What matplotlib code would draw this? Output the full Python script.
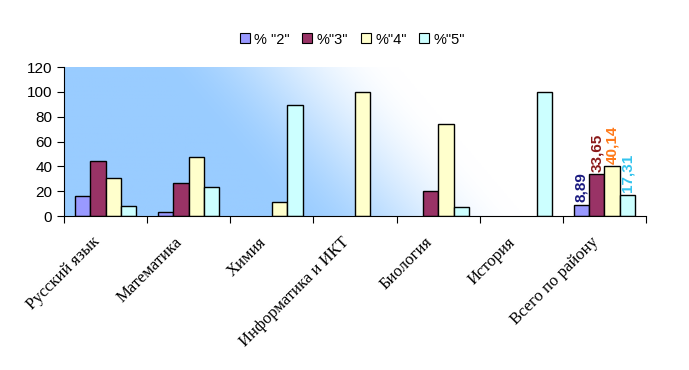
import matplotlib.pyplot as plt
import matplotlib.transforms as mtransforms
import numpy as np
from matplotlib.colors import to_rgb
from matplotlib.lines import Line2D

categories = ["Русский язык", "Математика", "Химия", "Информатика и ИКТ",
              "Биология", "История", "Всего по району"]
series_names = ['% "2"', '%"3"', '%"4"', '%"5"']
pct2 = [16, 3, 0, 0, 0, 0, 8.89]
pct3 = [44, 26.5, 0, 0, 20, 0, 33.65]
pct4 = [31, 47.5, 11, 100, 74, 0, 40.14]
pct5 = [8, 23, 89, 0, 7, 100, 17.31]
total_labels = ["8,89", "33,65", "40,14", "17,31"]

bar_colors = ["#9999FF", "#993366", "#FFFFCC", "#CCFFFF"]
label_colors = ["#1A1A80", "#8B1A1A", "#FF7A1A", "#33C4EE"]

fig = plt.figure(figsize=(6.89, 3.70), dpi=100)
ax = fig.add_axes([0.0929, 0.4162, 0.8447, 0.4027])

n = len(categories)
ax.set_xlim(0, n)
ax.set_ylim(0, 120)

# background gradient: blue at the left, fading diagonally to white
gx = np.linspace(0, 582, 400)
gy = np.linspace(0, 149, 150)
X, Y = np.meshgrid(gx, gy)
s = X + 0.85 * Y
t = np.clip((s - 220) / 240, 0, 1)
t = t * t * (3 - 2 * t)
blue = np.array(to_rgb("#99CCFF"))
img = blue[None, None, :] * (1 - t[..., None]) + t[..., None]
ax.imshow(img, extent=[0, n, 0, 120], origin="lower", aspect="auto", zorder=0)

w = 0.185
x = np.arange(n) + 0.5
for i, vals in enumerate([pct2, pct3, pct4, pct5]):
    vals = np.array(vals, dtype=float)
    keep = vals > 0
    ax.bar((x + (i - 1.5) * w)[keep], vals[keep], width=w, color=bar_colors[i],
           edgecolor="black", linewidth=1, zorder=2)
    ax.text(x[-1] + (i - 1.5) * w, vals[-1] + 2, total_labels[i], rotation=90,
            ha="center", va="bottom", color=label_colors[i],
            fontsize=11, fontweight="bold", family="Liberation Sans")

ax.spines["top"].set_visible(False)
ax.spines["right"].set_visible(False)
ax.set_xticks(np.arange(n + 1))
ax.set_xticklabels([])
ax.set_xticks(x, minor=True)
ax.set_xticklabels(categories, minor=True, rotation=45, ha="right", va="top",
                   rotation_mode="anchor", family="Liberation Serif", fontsize=12)
ax.tick_params(axis="x", which="minor", length=0, pad=13)
ax.tick_params(axis="x", which="major", length=5, direction="out")
shift = mtransforms.ScaledTranslation(-14 / 100, 0, fig.dpi_scale_trans)
for lbl in ax.get_xticklabels(minor=True):
    lbl.set_transform(lbl.get_transform() + shift)
ax.set_yticks(np.arange(0, 121, 20))
ax.tick_params(axis="y", labelsize=11, length=5, direction="out")
for lbl in ax.get_yticklabels():
    lbl.set_family("Liberation Sans")

handles = [Line2D([], [], marker="s", linestyle="", markersize=7,
                  markerfacecolor=c, markeredgecolor="black", markeredgewidth=0.8)
           for c in bar_colors]
fig.legend(handles, series_names, loc="center", bbox_to_anchor=(0.51, 0.893),
           ncol=4, frameon=False, prop={"family": "Liberation Sans", "size": 10.5},
           handletextpad=0.15, columnspacing=0.7, handlelength=1.0)

fig.savefig("out.png", dpi=100)
